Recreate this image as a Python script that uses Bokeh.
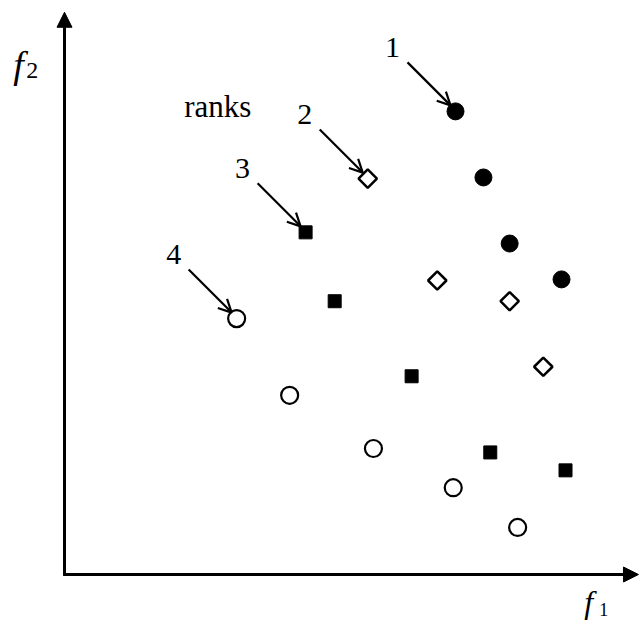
import math
from bokeh.plotting import figure
from bokeh.models import Range1d, Arrow, NormalHead, OpenHead
from bokeh.core.properties import value
from bokeh.embed import file_html
from bokeh.resources import INLINE

# Objective values (f1, f2) of the solutions, grouped by non-dominated rank
rank1_f1 = [6.86, 7.35, 7.81, 8.72]
rank1_f2 = [8.27, 7.09, 5.91, 5.27]
rank2_f1 = [5.32, 6.54, 7.81, 8.40]
rank2_f2 = [7.07, 5.25, 4.88, 3.71]
rank3_f1 = [4.23, 4.74, 6.09, 7.47, 8.79]
rank3_f2 = [6.11, 4.88, 3.54, 2.18, 1.86]
rank4_f1 = [3.02, 3.95, 5.42, 6.82, 7.95]
rank4_f2 = [4.57, 3.20, 2.25, 1.55, 0.84]
rank_labels = ["1", "2", "3", "4"]

SERIF = value("Liberation Serif")
XPX, YPX = 57.0, 56.0  # pixels per unit on each axis

p = figure(width=639, height=621, output_backend="svg", toolbar_location=None,
           x_range=Range1d(-1.123, 10.088), y_range=Range1d(-0.839, 10.25),
           min_border=0, x_axis_location=None, y_axis_location=None,
           background_fill_color="white", border_fill_color="white")
p.outline_line_color = None
p.xgrid.visible = False
p.ygrid.visible = False

# axes drawn as arrows from the origin
p.add_layout(Arrow(end=NormalHead(size=15, fill_color="black", line_color="black"),
                   x_start=0, y_start=-0.02, x_end=0, y_end=10.04,
                   line_width=3, line_color="black"))
p.add_layout(Arrow(end=NormalHead(size=15, fill_color="black", line_color="black"),
                   x_start=-0.02, y_start=0, x_end=10.07, y_end=0,
                   line_width=3, line_color="black"))

# axis labels f1, f2 (italic f with subscript digit)
p.text(x=[-0.9], y=[9.1], text=["f"], text_font=SERIF, text_font_style="italic",
       text_font_size="38px", text_align="left", text_baseline="alphabetic")
p.text(x=[-0.67], y=[9.0], text=["2"], text_font=SERIF,
       text_font_size="24px", text_align="left", text_baseline="alphabetic")
p.text(x=[9.12], y=[-0.49], text=["f"], text_font=SERIF, text_font_style="italic",
       text_font_size="32px", text_align="left", text_baseline="alphabetic")
p.text(x=[9.38], y=[-0.62], text=["1"], text_font=SERIF,
       text_font_size="18px", text_align="left", text_baseline="alphabetic")

p.text(x=[2.1], y=[8.36], text=["ranks"], text_font=SERIF,
       text_font_size="31px", text_align="left", text_baseline="alphabetic")

# markers for each rank
p.scatter(rank1_f1, rank1_f2, marker="circle", size=17, fill_color="black",
          line_color="black")
p.scatter(rank2_f1, rank2_f2, marker="square", angle=math.pi / 4, size=13,
          fill_color="white", line_color="black", line_width=2.5)
p.scatter(rank3_f1, rank3_f2, marker="square", size=13, fill_color="black",
          line_color="black")
p.scatter(rank4_f1, rank4_f2, marker="circle", size=17, fill_color="white",
          line_color="black", line_width=2.2)

# rank labels with arrows pointing to the first member of each front
targets = [(rank1_f1[0], rank1_f2[0]), (rank2_f1[0], rank2_f2[0]),
           (rank3_f1[0], rank3_f2[0]), (rank4_f1[0], rank4_f2[0])]
lx, ly = [], []
for (tx, ty) in targets:
    p.add_layout(Arrow(end=OpenHead(size=13, line_width=2.2, line_color="black"),
                       x_start=tx - 48 / XPX, y_start=ty + 49 / YPX,
                       x_end=tx - 5 / XPX, y_end=ty + 6 / YPX,
                       line_width=2.2, line_color="black"))
    lx.append(tx - 63 / XPX)
    ly.append(ty + 64 / YPX)
p.text(x=lx, y=ly, text=rank_labels, text_font=SERIF, text_font_size="30px",
       text_align="center", text_baseline="middle")

open("out.html", "w").write(file_html(p, INLINE))
